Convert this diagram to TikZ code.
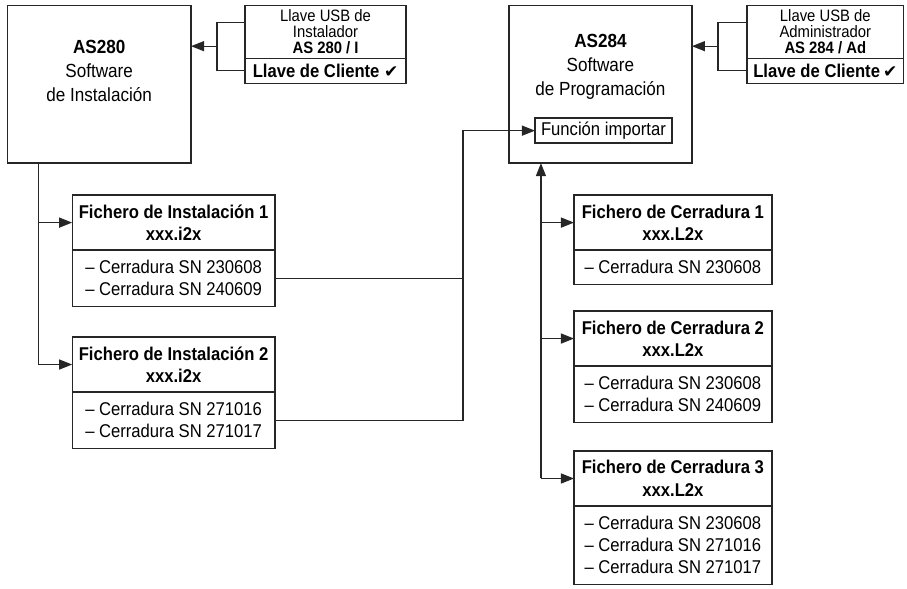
\documentclass[tikz,border=0pt]{standalone}
\usepackage{fontspec}
\setmainfont{Liberation Sans}[FakeStretch=0.9]
\newfontfamily\checkfont{DejaVu Sans}
\usepackage{tikz}
\usetikzlibrary{arrows.meta}
\usetikzlibrary{positioning}

\tikzset{
  frame/.style={draw=black!85, line width=1.3pt, outer sep=0pt},
  fhead/.style={frame, anchor=north west, align=center, minimum width=#1, minimum height=55pt, inner ysep=9pt, font=\fontsize{18.5}{22.5}\selectfont\bfseries},
  flist/.style={frame, align=left, minimum width=#1, inner ysep=10.5pt, font=\fontsize{18.5}{22}\selectfont},
  keyhead/.style={frame, anchor=north west, align=center, minimum width=#1, minimum height=53pt, inner sep=1pt, font=\fontsize{16.5}{16.5}\selectfont},
  keyfoot/.style={frame, minimum width=#1, minimum height=25pt, inner sep=1pt, font=\fontsize{18.5}{22}\selectfont\bfseries},
  maintext/.style={align=center, font=\fontsize{19}{24}\selectfont},
  conn/.style={draw=black!85, line width=1.3pt},
  arr/.style={conn, -{Triangle[length=13pt,width=10pt]}}
}
\newcommand{\chk}{{\checkfont\fontsize{17}{17}\selectfont\char"2714}}

\begin{document}
\begin{tikzpicture}[x=1pt,y=-1pt]
\draw[opacity=0] (0,0) rectangle (907,588);

% software boxes
\node[frame, anchor=north west, minimum width=184pt, minimum height=158pt] (as280) at (7,5) {};
\node[maintext] (as280t) at ([yshift=13pt]as280.center) {\textbf{AS280}\\Software\\de Instalación};
\node[frame, anchor=north west, minimum width=183pt, minimum height=158pt] (as284) at (509,5) {};
\node[maintext] (as284t) at ([yshift=17pt]as284.center) {\textbf{AS284}\\Software\\de Programación};
\node[frame, minimum width=137pt, minimum height=25pt, inner sep=2pt, font=\fontsize{18.5}{22}\selectfont] (fun) at (603.5,130.5) {Función importar};

% USB keys
\node[keyhead=161pt] (key1) at (245,5) {Llave USB de\\Instalador\\\textbf{AS 280 / I}};
\node[keyfoot=161pt, below=0pt of key1] (key1c) {Llave de Cliente \chk};
\node[keyhead=157pt] (key2) at (747,5) {Llave USB de\\Administrador\\\textbf{AS 284 / Ad}};
\node[keyfoot=157pt, below=0pt of key2] (key2c) {Llave de Cliente\,\chk};

\coordinate (key1j) at (217,46);
\coordinate (key2j) at (718,46);
\draw[conn] ([yshift=9.5pt]key1.west) -| (key1j) |- (key1c.west);
\draw[arr] (key1j) -- (key1j -| as280.east);
\draw[conn] ([yshift=9.5pt]key2.west) -| (key2j) |- (key2c.west);
\draw[arr] (key2j) -- (key2j -| as284.east);

% installation files
\node[fhead=203pt] (inst1) at (72,195) {Fichero de Instalación 1\\xxx.i2x};
\node[flist=203pt, below=0pt of inst1] (inst1l) {-- Cerradura SN 230608\\-- Cerradura SN 240609};
\node[fhead=203pt] (inst2) at (72,337) {Fichero de Instalación 2\\xxx.i2x};
\node[flist=203pt, below=0pt of inst2] (inst2l) {-- Cerradura SN 271016\\-- Cerradura SN 271017};

\coordinate (as280b) at ([xshift=31pt]as280.south west);
\draw[arr] (as280b) |- (inst2.west);
\draw[arr] (inst1.west -| as280b) -- (inst1.west);

% lock files
\node[fhead=198pt] (lock1) at (574,195) {Fichero de Cerradura 1\\xxx.L2x};
\node[flist=198pt, below=0pt of lock1] (lock1l) {-- Cerradura SN 230608};
\node[fhead=198pt] (lock2) at (574,311) {Fichero de Cerradura 2\\xxx.L2x};
\node[flist=198pt, below=0pt of lock2] (lock2l) {-- Cerradura SN 230608\\-- Cerradura SN 240609};
\node[fhead=198pt] (lock3) at (574,451) {Fichero de Cerradura 3\\xxx.L2x};
\node[flist=198pt, below=0pt of lock3] (lock3l) {-- Cerradura SN 230608\\-- Cerradura SN 271016\\-- Cerradura SN 271017};

\coordinate (as284b) at ([xshift=32pt]as284.south west);
\draw[arr] (lock3.west -| as284b) -- (as284b);
\foreach \n in {1,2,3}
  \draw[arr] (lock\n.west -| as284b) -- (lock\n.west);

% import
\coordinate (impj) at (463,130.5);
\draw[conn] (inst1l.east) -- (inst1l.east -| impj);
\draw[arr] (inst2l.east) -| (impj) -- (fun.west);

\end{tikzpicture}
\end{document}
